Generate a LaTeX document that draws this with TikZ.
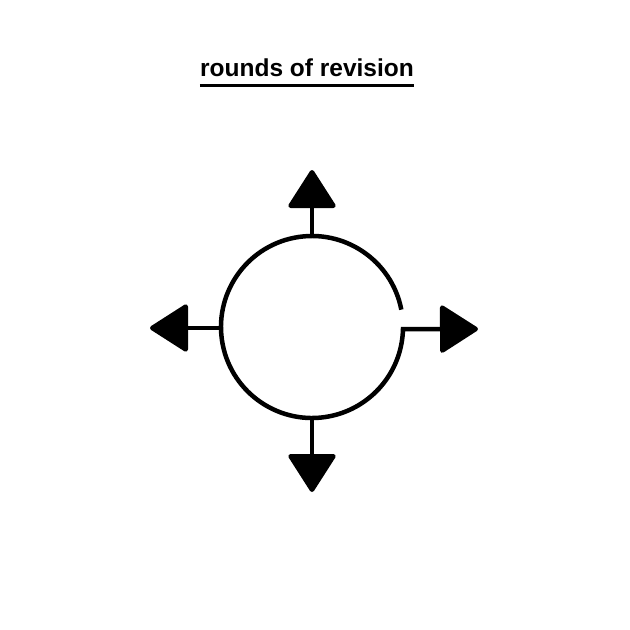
\documentclass[tikz,border=0pt]{standalone}
\usepackage{fontspec}
\setmainfont{Liberation Sans}
\usetikzlibrary{arrows.meta}

\begin{document}
\begin{tikzpicture}[
  x=1pt, y=-1pt,
  flow/.style={line width=4.5pt, -{Triangle[length=40pt, width=50pt, round]}},
  heading/.style={font=\bfseries\fontsize{24.5}{29}\selectfont, inner sep=0pt, anchor=base}
]
\useasboundingbox (0,0) rectangle (630,630);
% ---- title ----
\node[heading] (title) at (307,76) {rounds of revision};
\draw[line width=3pt] ([yshift=-9pt]title.base west) -- ([yshift=-9pt]title.base east);

% ---- ring ----
\coordinate (hub) at (312,327);
\coordinate (ringN) at (312,236);
\coordinate (ringS) at (312,418);
\coordinate (ringW) at (221,328);
\coordinate (tipN) at (312,170);
\coordinate (tipS) at (312,492);
\coordinate (tipW) at (150,328);
\coordinate (tipE) at (478,329);

% ring with a gap that runs out to the right
\draw[flow] ([shift={(11:91pt)}]hub) arc[start angle=11, end angle=358.6, radius=91pt] -- (tipE);

% edges
\draw[flow] (ringN) -- (tipN);
\draw[flow] (ringS) -- (tipS);
\draw[flow] (ringW) -- (tipW);
\end{tikzpicture}
\end{document}
